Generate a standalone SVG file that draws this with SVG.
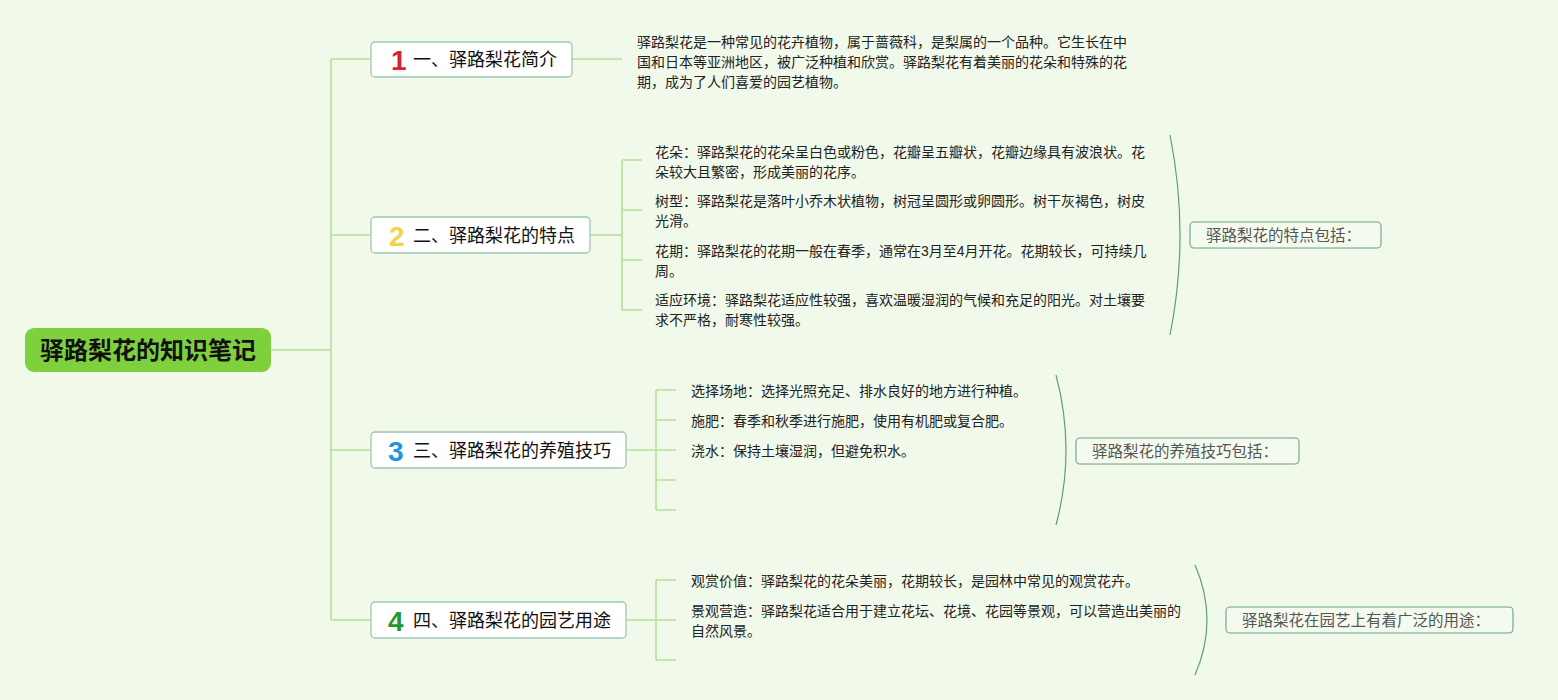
<svg xmlns="http://www.w3.org/2000/svg" width="1558" height="700" viewBox="0 0 1558 700">
<style>
.t{font-family:"Liberation Sans","Noto Sans CJK SC",sans-serif;}
.p{font-size:14px;fill:#222;}
.h{font-size:18px;fill:#111;}
.n{font-size:24px;font-weight:bold;}
.num{font-family:"Liberation Sans",sans-serif;font-size:28px;font-weight:bold;}
.s{font-size:15.5px;fill:#555;}
.box{fill:#fff;stroke:#9fc6b2;stroke-width:1.3;}
.sum{fill:#f4fbee;stroke:#6f9f88;stroke-width:1.1;}
.ln{stroke:#b4e09a;stroke-width:1.6;fill:none;}
.br{stroke:#5e9e80;stroke-width:1.2;fill:none;}
</style>
<rect width="1558" height="700" fill="#f1f9ea"/>
<g id="connectors">
<path class="ln" d="M271 350H331M331 59V620M331 59H371M331 235H371M331 450H371M331 620H371"/>
<path class="ln" d="M572 59H622"/>
<path class="ln" d="M590 235H622M622 160V310M622 160H642M622 210H642M622 260H642M622 310H642"/>
<path class="ln" d="M626 450H656M656 390V510M656 390H676M656 420H676M656 450H676M656 480H676M656 510H676"/>
<path class="ln" d="M626 620H656M656 580V660M656 580H676M656 620H676M656 660H676"/>
<path class="br" d="M1170 135Q1190 235 1170 335"/>
<path class="br" d="M1056 375Q1076 450 1056 525"/>
<path class="br" d="M1195 565Q1219 620 1195 675"/>
</g>
<g id="root">
<rect x="25" y="328" width="246" height="44" rx="9" fill="#7fd03d"/>
<text class="t n" x="148" y="359" text-anchor="middle" fill="#111">驿路梨花的知识笔记</text>
</g>
<g id="node1">
<rect class="box" x="371" y="42" width="201" height="35" rx="4"/>
<text class="num" x="391" y="70" fill="#d91f30">1</text>
<text class="t h" x="413" y="66">一、驿路梨花简介</text>
</g>
<g id="node1-text">
<text class="t p" x="637" y="47">驿路梨花是一种常见的花卉植物，属于蔷薇科，是梨属的一个品种。它生长在中</text>
<text class="t p" x="637" y="67">国和日本等亚洲地区，被广泛种植和欣赏。驿路梨花有着美丽的花朵和特殊的花</text>
<text class="t p" x="637" y="87">期，成为了人们喜爱的园艺植物。</text>
</g>
<g id="node2">
<rect class="box" x="371" y="217" width="219" height="36" rx="4"/>
<text class="num" x="389" y="246" fill="#f5d44b">2</text>
<text class="t h" x="413" y="242">二、驿路梨花的特点</text>
</g>
<g id="node2-items">
<text class="t p" x="655" y="157">花朵：驿路梨花的花朵呈白色或粉色，花瓣呈五瓣状，花瓣边缘具有波浪状。花</text>
<text class="t p" x="655" y="177">朵较大且繁密，形成美丽的花序。</text>
<text class="t p" x="655" y="206">树型：驿路梨花是落叶小乔木状植物，树冠呈圆形或卵圆形。树干灰褐色，树皮</text>
<text class="t p" x="655" y="226">光滑。</text>
<text class="t p" x="655" y="256">花期：驿路梨花的花期一般在春季，通常在3月至4月开花。花期较长，可持续几</text>
<text class="t p" x="655" y="276">周。</text>
<text class="t p" x="655" y="305">适应环境：驿路梨花适应性较强，喜欢温暖湿润的气候和充足的阳光。对土壤要</text>
<text class="t p" x="655" y="325">求不严格，耐寒性较强。</text>
</g>
<g id="summary2">
<rect class="sum" x="1190" y="222" width="191" height="26" rx="4"/>
<text class="t s" x="1206" y="241">驿路梨花的特点包括：</text>
</g>
<g id="node3">
<rect class="box" x="371" y="432" width="255" height="36" rx="4"/>
<text class="num" x="388" y="461" fill="#2295dc">3</text>
<text class="t h" x="413" y="457">三、驿路梨花的养殖技巧</text>
</g>
<g id="node3-items">
<text class="t p" x="691" y="396">选择场地：选择光照充足、排水良好的地方进行种植。</text>
<text class="t p" x="691" y="426">施肥：春季和秋季进行施肥，使用有机肥或复合肥。</text>
<text class="t p" x="691" y="456">浇水：保持土壤湿润，但避免积水。</text>
</g>
<g id="summary3">
<rect class="sum" x="1076" y="438" width="223" height="26" rx="4"/>
<text class="t s" x="1092" y="457">驿路梨花的养殖技巧包括：</text>
</g>
<g id="node4">
<rect class="box" x="371" y="602" width="255" height="36" rx="4"/>
<text class="num" x="388" y="631" fill="#1f9a2c">4</text>
<text class="t h" x="413" y="627">四、驿路梨花的园艺用途</text>
</g>
<g id="node4-items">
<text class="t p" x="691" y="586">观赏价值：驿路梨花的花朵美丽，花期较长，是园林中常见的观赏花卉。</text>
<text class="t p" x="691" y="616">景观营造：驿路梨花适合用于建立花坛、花境、花园等景观，可以营造出美丽的</text>
<text class="t p" x="691" y="636">自然风景。</text>
</g>
<g id="summary4">
<rect class="sum" x="1226" y="607" width="287" height="26" rx="4"/>
<text class="t s" x="1242" y="626">驿路梨花在园艺上有着广泛的用途：</text>
</g>
</svg>
